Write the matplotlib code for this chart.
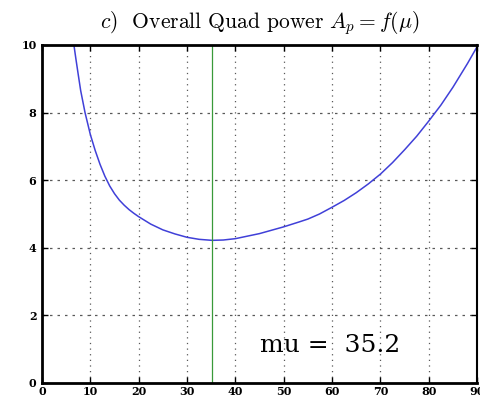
import matplotlib
matplotlib.use('Agg')
import matplotlib.pyplot as plt

plt.rcParams['mathtext.fontset'] = 'cm'
plt.rcParams['font.family'] = 'serif'
plt.rcParams['font.serif'] = ['DejaVu Serif']

# Overall quad power A_p as a function of mu
mu = [6.6, 7.0, 7.5, 8.0, 8.9, 10.0, 11.0, 12.0, 13.0, 14.0, 15.0, 16.0, 17.0,
      18.0, 19.0, 20.0, 22.5, 25.0, 27.5, 30.0, 32.5, 35.2, 37.5, 40.0, 45.0,
      50.0, 53.3, 55.0, 57.4, 60.0, 62.5, 65.0, 67.5, 70.0, 72.5, 75.0, 77.5,
      80.0, 82.5, 85.0, 88.0, 90.0]
a_p = [10.0, 9.6, 9.12, 8.65, 8.0, 7.35, 6.88, 6.47, 6.12, 5.83, 5.6, 5.41, 5.26,
       5.13, 5.02, 4.92, 4.7, 4.53, 4.41, 4.31, 4.25, 4.22, 4.23, 4.27, 4.42,
       4.62, 4.77, 4.85, 5.0, 5.2, 5.4, 5.63, 5.89, 6.18, 6.52, 6.9, 7.3,
       7.75, 8.22, 8.75, 9.45, 9.95]
mu_opt = 35.2

xticks = [0, 10, 20, 30, 40, 50, 60, 70, 80, 90]
yticks = [0, 2, 4, 6, 8, 10]

fig = plt.figure(figsize=(4.8, 3.98), dpi=100)
ax = fig.add_axes([0.0875, 0.0377, 0.9065, 0.8493])

ax.plot(mu, a_p, color='#4040d8', linewidth=1.1)
ax.axvline(mu_opt, color='#3a9a3a', linewidth=0.9)

ax.set_xlim(0, 90)
ax.set_ylim(0, 10)
ax.set_xticks(xticks)
ax.set_yticks(yticks)

# grid: dotted verticals, short-dashed horizontals
for x in xticks[1:-1]:
    ax.axvline(x, color='0.35', linestyle=(0, (1, 3.5)), linewidth=0.9, zorder=0)
for y in yticks[1:-1]:
    ax.axhline(y, color='0.35', linestyle=(0, (2, 4)), linewidth=0.9, zorder=0)

ax.tick_params(direction='in', length=4, width=1, top=True, right=True,
               labelsize=8)
ax.tick_params(axis='y', pad=4)
ax.tick_params(axis='x', pad=2)
for lbl in ax.get_xticklabels() + ax.get_yticklabels():
    lbl.set_fontweight('bold')

for side in ['left', 'bottom', 'top']:
    ax.spines[side].set_linewidth(2)
ax.spines['right'].set_linewidth(1.5)

ax.set_title(r'$c$)  Overall Quad power $A_p = f(\mu)$', fontsize=15.5,
             fontfamily='cmr10', pad=12)

ax.text(45.1, 0.92, 'mu =  %.1f' % mu_opt, fontsize=18, va='baseline')

fig.savefig('out.png', dpi=100)
